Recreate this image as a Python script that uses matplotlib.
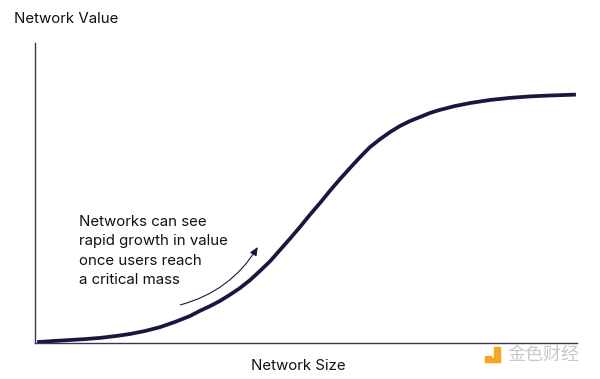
import matplotlib.pyplot as plt
from matplotlib.patches import Rectangle

# network size (x) vs network value (y)
size = [0.4, 3.7, 6.5, 9.2, 12.0, 14.8, 17.5, 20.3, 23.1, 25.8, 28.6, 30.4,
        32.3, 34.1, 35.9, 37.8, 39.7, 41.5, 43.4, 45.2, 47.0, 48.9, 50.7,
        52.6, 54.4, 56.3, 58.1, 60.0, 61.8, 63.7, 65.5, 67.3, 69.2, 71.0,
        72.9, 74.7, 77.5, 80.3, 83.9, 87.6, 91.3, 95.0, 99.8]
value = [0.3, 0.7, 1.0, 1.3, 1.7, 2.3, 3.0, 4.0, 5.3, 7.0, 9.0, 10.7,
         12.3, 14.0, 16.0, 18.3, 21.0, 24.0, 27.3, 31.0, 34.7, 38.7, 42.7,
         46.7, 50.7, 54.7, 58.3, 62.0, 65.3, 68.0, 70.3, 72.3, 74.0, 75.3,
         76.7, 77.7, 79.0, 80.0, 81.0, 81.7, 82.2, 82.5, 82.8]

note = "Networks can see\nrapid growth in value\nonce users reach\na critical mass"
arrow_start = (26.8, 12.7)
arrow_end = (41.1, 32.0)

navy = "#1c1540"

fig = plt.figure(figsize=(6, 3.79), dpi=100)
ax = fig.add_axes([35 / 600, 1 - 343 / 379, 542 / 600, 300 / 379])

ax.plot(size, value, color=navy, lw=2.7, solid_capstyle="butt",
        solid_joinstyle="round")
ax.set_xlim(0, 100)
ax.set_ylim(0, 100)

for s in ["top", "right"]:
    ax.spines[s].set_visible(False)
for s in ["left", "bottom"]:
    ax.spines[s].set_color("#3a3550")
    ax.spines[s].set_linewidth(1.0)
ax.set_xticks([])
ax.set_yticks([])

ax.annotate("", xy=arrow_end, xytext=arrow_start,
            arrowprops=dict(arrowstyle="-|>,head_length=0.5,head_width=0.22",
                            color=navy, lw=0.8,
                            connectionstyle="arc3,rad=0.2",
                            shrinkA=0, shrinkB=0))

ax.text(8.2, 42.7, note, ha="left", va="top", fontsize=10.8,
        family="Inter", color="#111111", linespacing=1.5)

fig.text(14 / 600, 1 - 19 / 379, "Network Value", ha="left", va="center",
         fontsize=10.8, family="Inter", color="#111111")
fig.text(298 / 600, 1 - 366 / 379, "Network Size", ha="center", va="center",
         fontsize=10.8, family="Inter", color="#111111")

# watermark
fig.patches.append(Rectangle((485 / 600, 1 - 362 / 379), 6 / 600, 6 / 379,
                             transform=fig.transFigure, color="#f5a623"))
fig.patches.append(Rectangle((494 / 600, 1 - 362 / 379), 6 / 600, 15 / 379,
                             transform=fig.transFigure, color="#f5a623"))
fig.patches.append(Rectangle((485 / 600, 1 - 362 / 379), 15 / 600, 4 / 379,
                             transform=fig.transFigure, color="#f5a623"))
fig.text(507 / 600, 1 - 355 / 379, "金色财经", ha="left", va="center",
         fontsize=13, family="Noto Sans CJK SC", color="#c8c8c8")

fig.savefig("out.png", dpi=100)
